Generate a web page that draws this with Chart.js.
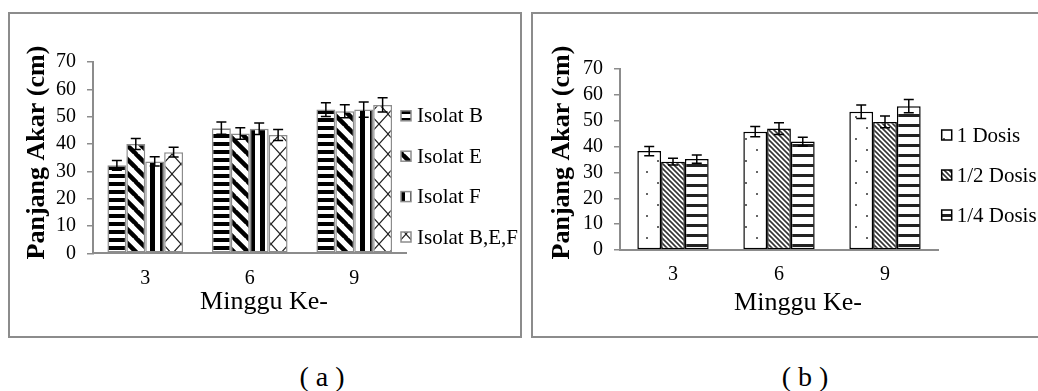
<!DOCTYPE html>
<html>
<head>
<meta charset="utf-8">
<script src="https://cdn.jsdelivr.net/npm/chart.js@4/dist/chart.umd.min.js"></script>
<style>
  html, body { margin: 0; padding: 0; background: #fff; }
  body { width: 1038px; height: 391px; position: relative; overflow: hidden;
         font-family: 'Liberation Serif', 'Times New Roman', serif; }
  .panel { position: absolute; box-sizing: border-box; border: 2px solid #8c8c8c; background: #fff; }
  #panelA { left: 8px; top: 12px; width: 514px; height: 326px; }
  #panelB { left: 531px; top: 12px; width: 509px; height: 326px; }
  .panel canvas { position: absolute; left: 0; top: 0; }
  .caption { position: absolute; top: 363px; width: 120px; text-align: center;
             font-size: 28px; line-height: 28px; color: #000; white-space: pre; }
</style>
</head>
<body>
<div class="panel" id="panelA"><canvas id="chartA" width="510" height="322"></canvas></div>
<div class="panel" id="panelB"><canvas id="chartB" width="505" height="322"></canvas></div>
<div class="caption" style="left:262px">( a )</div>
<div class="caption" style="left:745px">( b )</div>

<script>
// ---- data ----
const weeks = ['3', '6', '9'];
const yTicks = [0, 10, 20, 30, 40, 50, 60, 70];

// (a) isolates
const isolatB   = [32.2, 45.8, 52.6];
const isolatE   = [40.0, 43.8, 52.0];
const isolatF   = [33.6, 45.6, 52.6];
const isolatBEF = [37.0, 43.3, 54.3];
const errIsolatB   = [1.8, 2.2, 2.5];
const errIsolatE   = [2.0, 2.1, 2.4];
const errIsolatF   = [1.7, 2.1, 2.8];
const errIsolatBEF = [1.8, 2.0, 2.6];

// (b) doses
const dosis1       = [38.3, 45.8, 53.5];
const dosisHalf    = [34.2, 47.0, 49.6];
const dosisQuarter = [35.2, 42.0, 55.7];
const errDosis1       = [1.8, 2.0, 2.6];
const errDosisHalf    = [1.3, 2.3, 2.3];
const errDosisQuarter = [1.6, 1.7, 2.6];

// ---- fill patterns ----
function makePattern(w, h, draw) {
  const c = document.createElement('canvas');
  c.width = w; c.height = h;
  const g = c.getContext('2d');
  g.fillStyle = '#fff';
  g.fillRect(0, 0, w, h);
  draw(g, w, h);
  return g.createPattern(c, 'repeat');
}
function diagLines(g, w, h, down) {
  g.beginPath();
  for (let k = -1; k <= 1; k++) {
    if (down) { g.moveTo(k * w - 1, -1); g.lineTo(k * w + w + 1, h + 1); }
    else      { g.moveTo(k * w + w + 1, -1); g.lineTo(k * w - 1, h + 1); }
  }
  g.stroke();
}
const patHorizWide = makePattern(1, 8, (g) => { g.fillStyle = '#000'; g.fillRect(0, 0, 1, 4); });
const patDiagWide  = makePattern(14, 14, (g, w, h) => { g.strokeStyle = '#000'; g.lineWidth = 4.5; diagLines(g, w, h, true); });
const patVertWide  = makePattern(10, 1, (g) => { g.fillStyle = '#000'; g.fillRect(0, 0, 5, 1); });
const patLattice   = makePattern(18, 20, (g, w, h) => {
  g.strokeStyle = '#222'; g.lineWidth = 1.2;
  diagLines(g, w, h, true); diagLines(g, w, h, false);
});
const patDots      = makePattern(22, 22, (g) => { g.fillStyle = '#666'; g.fillRect(3, 3, 2, 2); g.fillRect(14, 14, 2, 2); });
const patDiagFine  = makePattern(5, 5, (g, w, h) => { g.strokeStyle = '#333'; g.lineWidth = 1.6; diagLines(g, w, h, true); });
const patHorizThin = makePattern(1, 10, (g) => { g.fillStyle = '#222'; g.fillRect(0, 0, 1, 3); });

// ---- plugins ----
const errorBars = {
  id: 'errorBars',
  afterDatasetsDraw(chart, args, opts) {
    const ctx = chart.ctx, y = chart.scales.y, cap = opts.cap;
    ctx.save();
    ctx.strokeStyle = '#000';
    ctx.lineWidth = opts.width;
    chart.data.datasets.forEach((ds, i) => {
      chart.getDatasetMeta(i).data.forEach((bar, j) => {
        const v = ds.data[j], e = ds.err[j];
        const top = y.getPixelForValue(v + e), bot = y.getPixelForValue(v - e);
        const x = bar.x;
        ctx.beginPath();
        ctx.moveTo(x, top); ctx.lineTo(x, bot);
        ctx.moveTo(x - cap, top); ctx.lineTo(x + cap, top);
        ctx.moveTo(x - cap, bot); ctx.lineTo(x + cap, bot);
        ctx.stroke();
      });
    });
    ctx.restore();
  }
};

const sideLegend = {
  id: 'sideLegend',
  afterDraw(chart, args, opts) {
    const ctx = chart.ctx;
    ctx.save();
    ctx.font = opts.font;
    ctx.textBaseline = 'middle';
    ctx.textAlign = 'left';
    chart.data.datasets.forEach((ds, i) => {
      const cy = opts.y + i * opts.step;
      ctx.fillStyle = ds.backgroundColor;
      ctx.fillRect(opts.boxX, cy - opts.box / 2, opts.box, opts.box);
      ctx.strokeStyle = ds.borderColor;
      ctx.lineWidth = opts.boxLine;
      ctx.strokeRect(opts.boxX, cy - opts.box / 2, opts.box, opts.box);
      ctx.fillStyle = '#000';
      ctx.fillText(ds.label, opts.textX, cy + 1);
    });
    ctx.restore();
  }
};

const axisTitles = {
  id: 'axisTitles',
  afterDraw(chart, args, opts) {
    const ctx = chart.ctx;
    ctx.save();
    ctx.fillStyle = '#000';
    ctx.textAlign = 'center';
    ctx.textBaseline = 'middle';
    ctx.font = opts.yFont;
    ctx.translate(opts.yX, opts.yY);
    ctx.rotate(-Math.PI / 2);
    ctx.fillText(opts.yText, 0, 0);
    ctx.setTransform(1, 0, 0, 1, 0, 0);
    ctx.font = opts.xFont;
    ctx.fillText(opts.xText, opts.xX, opts.xY);
    ctx.restore();
  }
};

Chart.defaults.font.family = "'Liberation Serif', 'Times New Roman', serif";
Chart.defaults.color = '#000';

function buildOptions(cfg) {
  return {
    responsive: false,
    animation: false,
    devicePixelRatio: 1,
    layout: { padding: cfg.padding },
    plugins: {
      legend: { display: false },
      tooltip: { enabled: false },
      errorBars: { cap: 5, width: 1.5 },
      sideLegend: cfg.legend,
      axisTitles: cfg.titles
    },
    scales: {
      x: {
        grid: { display: false, drawTicks: false },
        border: { display: true, color: cfg.axisColor, width: 2 },
        ticks: { font: { size: 20 }, padding: 13 },
        afterFit: (s) => { s.height = 40; }
      },
      y: {
        min: 0, max: 70,
        afterBuildTicks: (s) => { s.ticks = yTicks.map(v => ({ value: v })); },
        grid: { drawOnChartArea: false, drawTicks: true, tickLength: 6, color: cfg.axisColor, lineWidth: 1.5 },
        border: { display: true, color: cfg.axisColor, width: 2 },
        ticks: { font: { size: 20 }, padding: 11, autoSkip: false },
        afterFit: (s) => { s.width = 40; }
      }
    }
  };
}

function barSet(label, data, err, fill, border, catPct) {
  return {
    label, data, err,
    backgroundColor: fill,
    borderColor: border,
    borderWidth: 1.5,
    borderSkipped: false,
    categoryPercentage: catPct,
    barPercentage: 1.0
  };
}

// (a) root length per isolate
new Chart(document.getElementById('chartA'), {
  type: 'bar',
  data: {
    labels: weeks,
    datasets: [
      barSet('Isolat B', isolatB, errIsolatB, patHorizWide, '#8c8c8c', 0.724),
      barSet('Isolat E', isolatE, errIsolatE, patDiagWide, '#8c8c8c', 0.724),
      barSet('Isolat F', isolatF, errIsolatF, patVertWide, '#8c8c8c', 0.724),
      barSet('Isolat B,E,F', isolatBEF, errIsolatBEF, patLattice, '#8c8c8c', 0.724)
    ]
  },
  options: buildOptions({
    padding: { left: 43, top: 48, right: 113.5, bottom: 42.7 },
    axisColor: '#8c8c8c',
    legend: { font: "21px 'Liberation Serif', serif", boxX: 391, textX: 407, y: 101.8, step: 40.4, box: 10, boxLine: 1.5 },
    titles: {
      yText: 'Panjang Akar (cm)', yFont: "bold 26px 'Liberation Serif', serif", yX: 27, yY: 138.5,
      xText: 'Minggu Ke-', xFont: "26px 'Liberation Serif', serif", xX: 254, xY: 288
    }
  }),
  plugins: [errorBars, sideLegend, axisTitles]
});

// (b) root length per dose
new Chart(document.getElementById('chartB'), {
  type: 'bar',
  data: {
    labels: weeks,
    datasets: [
      barSet('1 Dosis', dosis1, errDosis1, patDots, '#000', 0.673),
      barSet('1/2 Dosis', dosisHalf, errDosisHalf, patDiagFine, '#000', 0.673),
      barSet('1/4 Dosis', dosisQuarter, errDosisQuarter, patHorizThin, '#000', 0.673)
    ]
  },
  options: buildOptions({
    padding: { left: 47, top: 55.2, right: 100, bottom: 46 },
    axisColor: '#8c8c8c',
    legend: { font: "21px 'Liberation Serif', serif", boxX: 408.7, textX: 423.7, y: 121, step: 40, box: 10, boxLine: 1.5 },
    titles: {
      yText: 'Panjang Akar (cm)', yFont: "bold 26px 'Liberation Serif', serif", yX: 29, yY: 138.5,
      xText: 'Minggu Ke-', xFont: "26px 'Liberation Serif', serif", xX: 265, xY: 289
    }
  }),
  plugins: [errorBars, sideLegend, axisTitles]
});
</script>
</body>
</html>
